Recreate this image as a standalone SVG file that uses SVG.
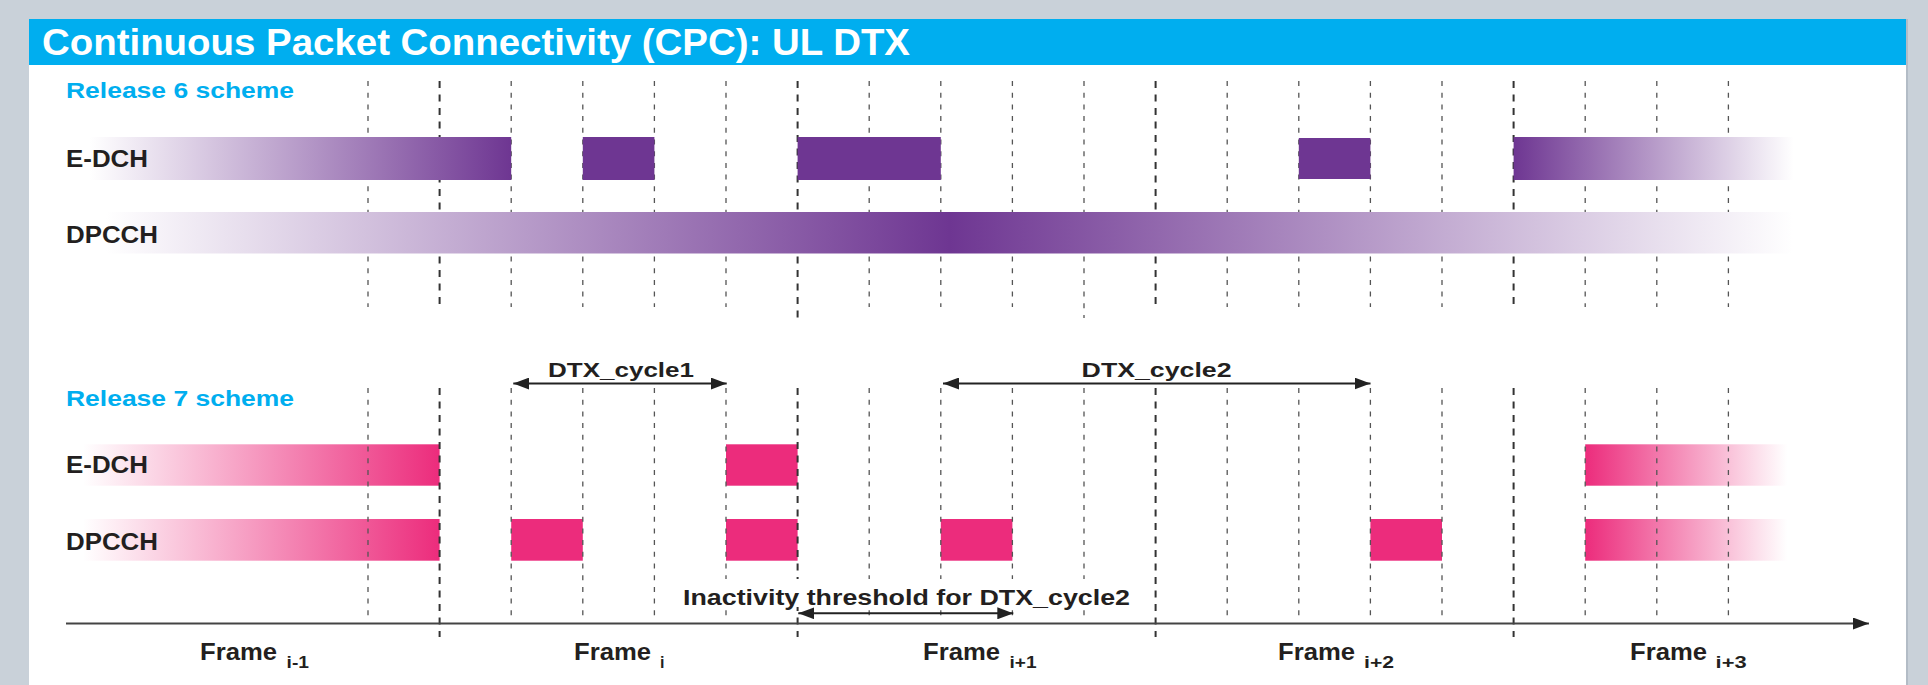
<svg xmlns="http://www.w3.org/2000/svg" width="1928" height="685" viewBox="0 0 1928 685">
<style>
.t{font-family:"Liberation Sans",Arial,sans-serif;font-weight:bold;fill:#231f20}
.rel{font-family:"Liberation Sans",Arial,sans-serif;font-weight:bold;fill:#00aeef;font-size:22px}
.lbl{font-size:24px}
.thin{stroke:#555;stroke-width:1.3;stroke-dasharray:5 6.7;fill:none}
.thick{stroke:#333;stroke-width:2;stroke-dasharray:7 6.5;fill:none}
.arr{stroke:#222;stroke-width:2;fill:none;marker-start:url(#ah);marker-end:url(#ah)}
.pur{fill:#6e3692}
.pink{fill:#ec2c7c}
</style>
<defs>
<marker id="ah" markerUnits="userSpaceOnUse" markerWidth="16" markerHeight="12" refX="16" refY="6" orient="auto-start-reverse">
<path d="M0,0 L16,6 L0,12 z" fill="#222"/>
</marker>
<linearGradient id="pL" x1="0" x2="1" y1="0" y2="0"><stop offset="0" stop-color="#ffffff"/><stop offset="1" stop-color="#6e3692"/></linearGradient>
<linearGradient id="pR" x1="0" x2="1" y1="0" y2="0"><stop offset="0" stop-color="#6e3692"/><stop offset="1" stop-color="#ffffff"/></linearGradient>
<linearGradient id="pM" x1="0" x2="1" y1="0" y2="0"><stop offset="0" stop-color="#ffffff"/><stop offset="0.5" stop-color="#6e3692"/><stop offset="1" stop-color="#ffffff"/></linearGradient>
<linearGradient id="kL" x1="0" x2="1" y1="0" y2="0"><stop offset="0" stop-color="#ec2c7c" stop-opacity="0"/><stop offset="1" stop-color="#ec2c7c"/></linearGradient>
<linearGradient id="kR" x1="0" x2="1" y1="0" y2="0"><stop offset="0" stop-color="#ec2c7c"/><stop offset="1" stop-color="#ec2c7c" stop-opacity="0"/></linearGradient>
</defs>
<rect x="0" y="0" width="1928" height="685" fill="#c9d1d9"/>
<rect x="29" y="19" width="1878" height="666" fill="#ffffff"/>
<rect x="1906" y="19" width="2" height="666" fill="#b3bcc6"/>
<g id="header">
<rect x="29" y="19" width="1877" height="46" fill="#00aeef"/>
<text x="42" y="55" class="t" style="fill:#fff;font-size:36px" textLength="868" lengthAdjust="spacingAndGlyphs">Continuous Packet Connectivity (CPC): UL DTX</text>
</g>
<g id="release6">
<text x="66" y="98" class="rel" textLength="228" lengthAdjust="spacingAndGlyphs">Release 6 scheme</text>
<g id="r6-grid">
<path class="thin" d="M368,81V307 M511.2,81V307 M582.8,81V307 M654.4,81V307 M726,81V307 M869.2,81V307 M940.8,81V307 M1012.4,81V307 M1084,81V318 M1227.2,81V307 M1298.8,81V307 M1370.4,81V307 M1442,81V307 M1585.2,81V307 M1656.8,81V307 M1728.4,81V307"/>
<path class="thick" d="M439.6,81V307 M797.6,81V318 M1155.6,81V307 M1513.6,81V307"/>
</g>
<g id="r6-edch">
<rect x="90" y="137" width="421.2" height="43" fill="url(#pL)"/>
<rect x="582.8" y="137" width="71.6" height="43" class="pur"/>
<rect x="797.6" y="137" width="143.2" height="43" class="pur"/>
<rect x="1298.8" y="138" width="71.6" height="41" class="pur"/>
<rect x="1513.6" y="137" width="280" height="43" fill="url(#pR)"/>
<text x="66" y="167" class="t lbl" textLength="82" lengthAdjust="spacingAndGlyphs">E-DCH</text>
</g>
<g id="r6-dpcch">
<rect x="106" y="212" width="1687" height="41.5" fill="url(#pM)"/>
<text x="66" y="243" class="t lbl" textLength="92" lengthAdjust="spacingAndGlyphs">DPCCH</text>
</g>
</g>
<g id="release7">
<text x="66" y="406" class="rel" textLength="228" lengthAdjust="spacingAndGlyphs">Release 7 scheme</text>
<g id="r7-edch">
<rect x="83" y="444.3" width="356.6" height="41.4" fill="url(#kL)"/>
<rect x="726" y="444.3" width="71.6" height="41.4" class="pink"/>
<rect x="1585.2" y="444.3" width="202" height="41.4" fill="url(#kR)"/>
<text x="66" y="473" class="t lbl" textLength="82" lengthAdjust="spacingAndGlyphs">E-DCH</text>
</g>
<g id="r7-dpcch">
<rect x="83" y="519" width="356.6" height="41.7" fill="url(#kL)"/>
<rect x="511.2" y="519" width="71.6" height="41.7" class="pink"/>
<rect x="726" y="519" width="71.6" height="41.7" class="pink"/>
<rect x="940.8" y="519" width="71.6" height="41.7" class="pink"/>
<rect x="1370.4" y="519" width="71.6" height="41.7" class="pink"/>
<rect x="1585.2" y="519" width="202" height="41.7" fill="url(#kR)"/>
<text x="66" y="549.5" class="t lbl" textLength="92" lengthAdjust="spacingAndGlyphs">DPCCH</text>
</g>
<g id="r7-grid">
<path class="thin" d="M368,388V617 M511.2,388V617 M582.8,388V617 M654.4,388V617 M726,388V617 M869.2,388V617 M940.8,388V617 M1012.4,388V617 M1084,388V617 M1227.2,388V617 M1298.8,388V617 M1370.4,388V617 M1442,388V617 M1585.2,388V617 M1656.8,388V617 M1728.4,388V617"/>
<path class="thick" d="M439.6,388V637 M797.6,388V637 M1155.6,388V637 M1513.6,388V637"/>
</g>
</g>
<g id="connectors">
<line x1="513.3" y1="383.5" x2="726.7" y2="383.5" class="arr"/>
<line x1="943" y1="383.5" x2="1370.5" y2="383.5" class="arr"/>
<rect x="680" y="579" width="455" height="28" fill="#fff"/>
<line x1="798.3" y1="613.3" x2="1013.3" y2="613.3" class="arr"/>
<line x1="66" y1="623.5" x2="1869" y2="623.5" stroke="#444" stroke-width="2" marker-end="url(#ah)"/>
</g>
<g id="arrow-labels">
<text x="548" y="376.5" class="t" style="font-size:21px" textLength="146" lengthAdjust="spacingAndGlyphs">DTX_cycle1</text>
<text x="1081.6" y="376.5" class="t" style="font-size:21px" textLength="150" lengthAdjust="spacingAndGlyphs">DTX_cycle2</text>
<text x="683" y="605" class="t" style="font-size:22px" textLength="447" lengthAdjust="spacingAndGlyphs">Inactivity threshold for DTX_cycle2</text>
</g>
<g id="frames" class="t">
<text x="200" y="660" style="font-size:23px" textLength="77" lengthAdjust="spacingAndGlyphs">Frame</text>
<text x="286.6" y="667.5" style="font-size:16px" textLength="22.4" lengthAdjust="spacingAndGlyphs">i-1</text>
<text x="574" y="660" style="font-size:23px" textLength="77" lengthAdjust="spacingAndGlyphs">Frame</text>
<text x="660" y="667.5" style="font-size:16px">i</text>
<text x="923" y="660" style="font-size:23px" textLength="77" lengthAdjust="spacingAndGlyphs">Frame</text>
<text x="1009.5" y="667.5" style="font-size:16px" textLength="27" lengthAdjust="spacingAndGlyphs">i+1</text>
<text x="1278" y="660" style="font-size:23px" textLength="77" lengthAdjust="spacingAndGlyphs">Frame</text>
<text x="1364" y="667.5" style="font-size:16px" textLength="30" lengthAdjust="spacingAndGlyphs">i+2</text>
<text x="1630" y="660" style="font-size:23px" textLength="77" lengthAdjust="spacingAndGlyphs">Frame</text>
<text x="1715.6" y="667.5" style="font-size:16px" textLength="31" lengthAdjust="spacingAndGlyphs">i+3</text>
</g>
</svg>
